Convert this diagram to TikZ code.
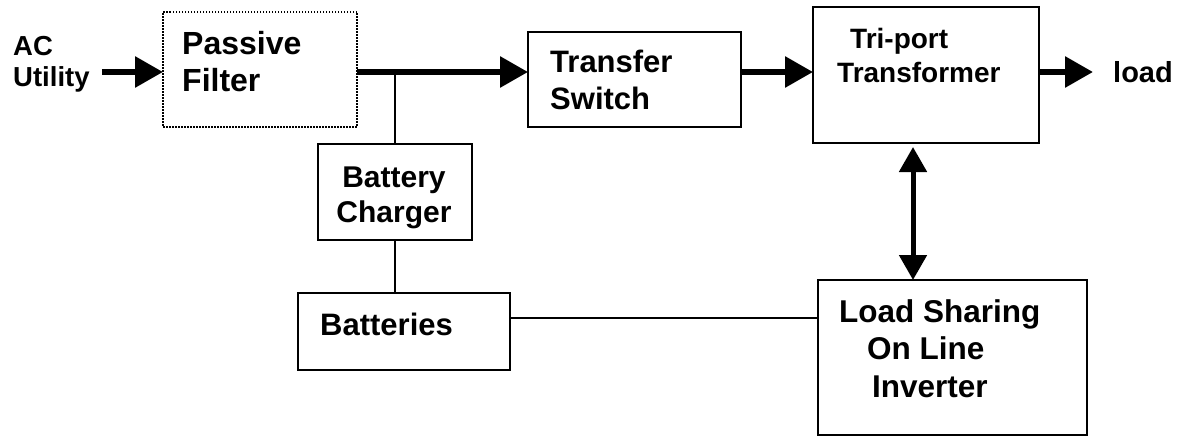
\documentclass[tikz,border=0pt]{standalone}
\usepackage{fontspec}
\setmainfont{Liberation Sans}
\usetikzlibrary{arrows.meta}

\tikzset{
  blk/.style={draw,line width=2pt,inner sep=0pt,outer sep=0pt},
  filterbox/.style={draw,line width=1.5pt,dash pattern=on 1.5pt off 1.5pt,inner sep=0pt,outer sep=0pt},
  txt/.style={anchor=base west,inner sep=0pt,align=left},
  pwr/.style={line width=6pt,-{Triangle[length=28pt,width=30pt]}},
  dual/.style={line width=5pt,{Triangle[length=25pt,width=27pt]}-{Triangle[length=25pt,width=27pt]}},
  wire/.style={line width=2pt},
}

\begin{document}
\begin{tikzpicture}[x=1pt,y=-1pt]
  \useasboundingbox (0,0) rectangle (1195,436);

  \node[filterbox,minimum width=194pt,minimum height=115pt] (filter) at (260,69.5) {};
  \node[blk,minimum width=213pt,minimum height=95pt] (switch) at (634.5,79.5) {};
  \node[blk,minimum width=226pt,minimum height=136pt] (trafo) at (926,75) {};
  \node[blk,minimum width=154pt,minimum height=96pt] (charger) at (395,192) {};
  \node[blk,minimum width=212pt,minimum height=77pt] (batt) at (404,331.5) {};
  \node[blk,minimum width=269pt,minimum height=155pt] (inv) at (952.5,357.5) {};

  % base anchor = baseline of the last line
  \node[txt,font=\bfseries\fontsize{27.5}{31.5}\selectfont] (ac) at (13,86.5) {AC\\Utility};
  \node[txt,font=\bfseries\fontsize{32}{37}\selectfont] (filter-txt) at (182,92) {Passive\\Filter};
  \node[txt,font=\bfseries\fontsize{31}{37}\selectfont] (switch-txt) at (550,110) {Transfer\\Switch};
  \node[txt,font=\bfseries\fontsize{28}{34}\selectfont] (trafo-txt) at (837,82) {\hspace*{13pt}Tri-port\\Transformer};
  \node[txt,anchor=base,align=center,font=\bfseries\fontsize{30}{35}\selectfont] (charger-txt) at (394,222) {Battery\\Charger};
  \node[txt,font=\bfseries\fontsize{31}{37}\selectfont] (batt-txt) at (320,335) {Batteries};
  \node[txt,font=\bfseries\fontsize{31.5}{37.5}\selectfont] (inv-txt) at (839,397) {Load Sharing\\\hspace*{28pt}On Line\\\hspace*{33pt}Inverter};
  \node[txt,font=\bfseries\fontsize{29}{34}\selectfont] (load) at (1113,83) {load};

  \coordinate (tap) at (395,72);
  \coordinate (link) at (913,0);
  \coordinate (bus) at (0,318);

  \draw[pwr,shorten <=12pt] (ac.east |- tap) -- (filter.west |- tap);
  \draw[pwr] (filter.east |- tap) -- (switch.west |- tap);
  \draw[pwr] (switch.east |- tap) -- (trafo.west |- tap);
  \draw[pwr,shorten >=20pt] (trafo.east |- tap) -- (load.west |- tap);
  \draw[dual,shorten <=4pt] (trafo.south -| link) -- (inv.north -| link);
  \draw[wire] (tap) -- (charger.north);
  \draw[wire] (charger.south) -- (charger.south |- batt.north);
  \draw[wire] (batt.east |- bus) -- (inv.west |- bus);
\end{tikzpicture}
\end{document}
